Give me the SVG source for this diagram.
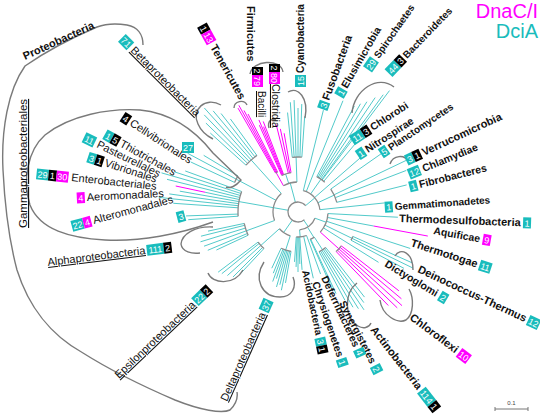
<svg xmlns="http://www.w3.org/2000/svg" width="540" height="415" viewBox="0 0 540 415">
<style>
.c{fill:none;stroke:#52caca;stroke-width:1}
.m{fill:none;stroke:#ff00ff;stroke-width:1}
.g{fill:none;stroke:#8a8a8a;stroke-width:1.3}
.k{fill:none;stroke:#7a7a7a;stroke-width:1.4}
text{font-family:"Liberation Sans",Arial,sans-serif}
.b{font-weight:bold;fill:#111}
.n{fill:#111}
.u{text-decoration:underline}
.w{fill:#fff;font-size:9px;text-anchor:middle}
.cy{fill:#19bcbc}
.mg{fill:#ff00ff}
.bk{fill:#000}
</style>
<rect width="540" height="415" fill="#fff"/>
<g id="tree">
<path class="c" d="M288.15,210.26L273.38,207.66M292.26,220.19L283.66,232.48M295.41,202.34L290.24,183.02M305.66,205.57L314.85,197.86M303.74,220.19L308.32,226.75M299.57,229.93L300.18,236.9M307.54,227.26L313.9,237.44M314.91,218.16L326.19,222.26M314.34,237.16L322.51,249.74M324.96,225.15L351.93,238.3M317.94,202.7L334.25,195.1M310.62,193.98L320.94,179.23M296.95,182.02L296.08,157.03M288.73,183.47L285.64,173.96M273.38,207.66L238.91,201.58M275.93,200.26L236.2,179.13M281.27,193.42L251.16,159.98M274.51,220.55L246.32,230.81M279.42,228.73L260.84,245.46M290.27,235.78L285.64,250.04
M306.55,235.49L320.57,274.02M303.63,236.36L313.3,278.26M299.75,236.94L302.05,269.86M298.87,236.99L299.82,263.97M298,237L298,272M297.13,236.99L296.08,266.97M296.25,236.94L294.51,261.88
M310.68,239.19L336.03,293.57M310.2,239.41L332.98,290.56
M325.71,247.46L364.5,297.1M324.45,248.41L363.83,302.61M323.16,249.31L363.99,309.82M321.85,250.16L358.41,308.67M320.5,250.97L353,307.26M319.13,251.73L344.95,300.29
M327.96,213.57L397.86,217.23M327.5,217.47L373.7,226.03M326.53,221.27L410.23,248.46M323.44,227.9L378.56,262.34
M352.81,236.4L412.19,262.84M351.93,238.3L413.05,268.12M350.97,240.17L403.95,268.34
M319.88,209.7L384.52,202.91M314.6,197.57L361.39,156.89M306.24,191.6L342.95,100.74M303.32,190.65L323.4,110.12
M336.81,202.32L406.67,184.91M335.34,197.66L406.3,170.43M334.1,194.78L406.31,160.34M330.77,189.06L381.56,153.49
M323.71,181.36L357.14,141.53M316.78,176.68L354.34,106.05M318,177.36L360.5,103.75M319.2,178.08L366.89,101.76M320.37,178.84L375.17,97.6M321.51,179.64L383.23,94.69M322.07,180.06L389.47,90.61
M292.25,157.3L287.55,112.55M294.16,157.13L290.32,102.26M296.08,157.03L294.09,100.07M298,157L298,108M299.92,157.03L301.77,104.06M301.84,157.13L304.7,116.23
M238.14,216.19L188.26,219.68M238.04,214.09L186.07,215.91M238.14,207.81L173.3,203.27M238.33,205.73L158.77,197.37M238.58,203.65L169.26,193.9M238.91,201.58L179.82,191.17M239.31,199.53L205.08,192.25M239.78,197.49L167.01,179.34M240.32,195.46L161.5,172.86M240.93,193.46L174.36,171.83M241.62,191.48L185.24,170.96
M234.56,182.42L191.06,162.13M236.2,179.13L187.64,153.31M238,175.95L203.71,155.35
M245.98,165.16L210.31,133.05M247.65,163.37L205.93,123.08M249.37,161.65L204.22,114.89M251.16,159.98L204.33,107.97M253,158.38L213.15,110.89M254.9,156.84L221.04,113.5M256.85,155.37L230.4,118.96
M248.15,235.24L216.43,250.03M247.37,233.49L207.79,250.29M246.32,230.81L204.03,246.2M245.4,228.08L200.46,241.82M244.63,225.3L200.97,236.19M244.2,223.43L208.01,231.13
M263.9,248.57L240.03,274.17M262.64,247.36L232.95,277.05M260.84,245.46L227.41,275.56M259.14,243.47L221.84,273.67M258.07,242.09L218.14,272.18
M291.06,251.39L285.5,282.91M289.68,251.12L281.37,290.25M288.32,250.81L279.86,284.77M286.98,250.45L276.5,286.98M285.64,250.04L276.37,278.58M284.32,249.59L272.69,281.54M283.02,249.09L273.28,273.2M281.1,248.25L271.8,268.19"/>
<path class="m" d="M320.29,232.07L338.87,248.8M341.34,245.86L398.86,290.81M340.13,247.35L401.41,298.78M338.87,248.8L402.03,305.67M337.56,250.21L397.26,307.87M336.21,251.56L388.31,305.51
M373.7,226.03L427.8,236.05
M281.73,175.46L259.36,125.22M282.37,175.18L258.93,119.95M283.02,174.91L263.54,126.7M283.66,174.66L263.24,121.44M288.32,173.19L276.23,124.67M289.68,172.88L280.33,128.86M291.06,172.61L284.11,133.22
M283.46,185.76L276.18,172.64M275.5,173.03L238,108.08M276.18,172.64L238.85,105.3M276.87,172.27L244.01,110.47M277.57,171.9L248.06,113.99
M205.08,192.25L175.74,186.01"/>
<path class="g" d="M304.43,219.66A10,10 0 1 1 305.66,205.57M314.91,218.16A18,18 0 0 1 299.57,229.93M306.55,235.49A25,25 0 0 1 296.25,236.94M314.34,237.16A30,30 0 0 1 310.2,239.41M325.71,247.46A45,45 0 0 1 319.13,251.73M327.96,213.57A30,30 0 0 1 320.29,232.07M352.81,236.4A60,60 0 0 1 350.97,240.17M341.34,245.86A55,55 0 0 1 336.21,251.56M303.32,190.65A22,22 0 0 1 319.88,209.7M330.77,189.06A40,40 0 0 1 336.81,202.32M316.78,176.68A40,40 0 0 1 324.76,182.28M283.46,185.76A30,30 0 0 1 296.95,182.02M292.25,157.3A55,55 0 0 1 301.84,157.13M281.73,175.46A40,40 0 0 1 291.06,172.61M275.5,173.03A45,45 0 0 1 277.57,171.9M274.51,220.55A25,25 0 0 1 281.27,193.42M238.14,216.19A60,60 0 0 1 241.62,191.48M234.56,182.42A70,70 0 0 1 238,175.95M245.98,165.16A70,70 0 0 1 256.85,155.37M248.15,235.24A55,55 0 0 1 244.2,223.43M290.27,235.78A25,25 0 0 1 279.42,228.73M263.9,248.57A50,50 0 0 1 258.07,242.09M291.06,251.39A40,40 0 0 1 281.1,248.25"/>
</g>
<g id="brackets">
<path class="k" d="M143,45C143,35 138,27 127,25C115,23 105,24 97,27Q55,45 25,66C8,90 1,130 3,170C5,210 9,240 17,270C28,305 50,335 83,353C110,370 140,385 175,400C200,410 222,414 230,410C236,404 238,398 237,392"/>
<path class="k" d="M213,222C180,234 140,242 105,240C70,238 40,230 30,205C22,180 28,150 45,135C70,115 110,108 140,110C170,113 195,130 213,153L241,180C236,186 230,189 226,187"/>
<path class="k" d="M221,105C205,96 191,110 198,124C201,131 207,136 213,139"/>
<path class="k" d="M234,108C234,101 244,99 247,105"/>
<path class="k" d="M250,74C252,60 281,58 283,72"/>
<path class="k" d="M269,128C267,121 272,118 276,120"/>
<path class="k" d="M288,92C298,86 309,98 305,118"/>
<path class="k" d="M352,113C354,90 378,74 394,87"/>
<path class="k" d="M390,164C393,155 405,154 408,162"/>
<path class="k" d="M395,256C400,247 413,252 413,270"/>
<path class="k" d="M380,300C382,316 398,324 406,320C414,314 414,298 409,289"/>
<path class="k" d="M357,283C344,293 344,318 358,326C363,329 369,328 371,323"/>
<path class="k" d="M264,262C253,279 262,297 280,297C292,297 297,287 293,277"/>
<path class="k" d="M208,273C212,284 234,286 243,270"/>
<path class="k" d="M213,227C195,226 182,234 181,244C182,252 192,254 200,253"/>
</g>
<g id="legend">
<text x="538" y="18" font-size="20" fill="#ff00ff" text-anchor="end">DnaC/I</text>
<text x="538" y="38" font-size="20" fill="#1abcbc" text-anchor="end">DciA</text>
</g>
<g id="proteobacteria" transform="translate(25,60) rotate(-24.5)"><text class="b" font-size="11">Proteobacteria</text></g>
<g id="betaproteobacteria" transform="translate(130,51) rotate(45)"><rect class="cy" x="-15" y="-9" width="12" height="11"/><text class="w" x="-9" y="0">71</text><text class="n u" font-size="11">Betaproteobacteria</text></g>
<g id="tenericutes" transform="translate(210,47) rotate(61)"><rect class="bk" x="-23" y="-9" width="8" height="11"/><text class="w" x="-19" y="0">1</text><rect class="mg" x="-15" y="-9" width="12" height="11"/><text class="w" x="-9" y="0">13</text><text class="b" font-size="11">Tenericutes</text></g>
<g id="firmicutes" transform="translate(247,6) rotate(90)"><text class="b" font-size="11">Firmicutes</text></g>
<g id="firmicutes-counts">
<rect class="bk" x="252" y="67" width="11" height="8"/><text class="w" transform="translate(257.5,71) rotate(90)" y="3.2">2</text>
<rect class="mg" x="252" y="75" width="11" height="12"/><text class="w" transform="translate(257.5,81) rotate(90)" y="3.2">79</text>
<rect class="bk" x="269" y="64" width="11" height="8"/><text class="w" transform="translate(274.5,68) rotate(90)" y="3.2">2</text>
<rect class="mg" x="269" y="72" width="11" height="12"/><text class="w" transform="translate(274.5,78) rotate(90)" y="3.2">80</text>
</g>
<g id="bacilli" transform="translate(258,91) rotate(90)"><text class="n u" font-size="10">Bacilli</text></g>
<g id="clostridia" transform="translate(272,84) rotate(90)"><text class="n u" font-size="10.5">Clostridia</text></g>
<g id="cyanobacteria" transform="translate(304,73) rotate(-90)"><rect class="cy" x="-14" y="-9" width="12" height="11"/><text class="w" x="-8" y="0">15</text><text class="b" font-size="10">Cyanobacteria</text></g>
<g id="fusobacteria" transform="translate(329,101) rotate(-70)"><rect class="cy" x="-10" y="-9" width="8" height="11"/><text class="w" x="-6" y="0">3</text><text class="b" font-size="11">Fusobacteria</text></g>
<g id="elusimicrobia" transform="translate(347,89) rotate(-60)"><rect class="cy" x="-10" y="-9" width="8" height="11"/><text class="w" x="-6" y="0">1</text><text class="b" font-size="10.5">Elusimicrobia</text></g>
<g id="spirochaetes" transform="translate(379,59) rotate(-55)"><rect class="cy" x="-15" y="-9" width="12" height="11"/><text class="w" x="-9" y="0">29</text><text class="b" font-size="10">Spirochaetes</text></g>
<g id="bacteroidetes" transform="translate(407,59) rotate(-46)"><rect class="cy" x="-23" y="-9" width="13" height="11"/><text class="w" x="-16.5" y="0">44</text><rect class="bk" x="-10" y="-9" width="8" height="11"/><text class="w" x="-6" y="0">3</text><text class="b" font-size="10">Bacteroidetes</text></g>
<g id="chlorobi" transform="translate(373,131) rotate(-33)"><rect class="cy" x="-23" y="-9" width="13" height="11"/><text class="w" x="-16.5" y="0">11</text><rect class="bk" x="-10" y="-9" width="8" height="11"/><text class="w" x="-6" y="0">3</text><text class="b" font-size="10.5">Chlorobi</text></g>
<g id="nitrospirae" transform="translate(368,153) rotate(-33)"><rect class="cy" x="-10" y="-9" width="8" height="11"/><text class="w" x="-6" y="0">1</text><text class="b" font-size="10.5">Nitrospirae</text></g>
<g id="planctomycetes" transform="translate(391,151) rotate(-34)"><rect class="cy" x="-10" y="-9" width="8" height="11"/><text class="w" x="-6" y="0">5</text><text class="b" font-size="10">Planctomycetes</text></g>
<g id="verrucomicrobia" transform="translate(424,156) rotate(-25)"><rect class="cy" x="-18" y="-9" width="8" height="11"/><text class="w" x="-14" y="0">3</text><rect class="bk" x="-10" y="-9" width="8" height="11"/><text class="w" x="-6" y="0">1</text><text class="b" font-size="11">Verrucomicrobia</text></g>
<g id="chlamydiae" transform="translate(424,172) rotate(-22)"><rect class="cy" x="-15" y="-9" width="12" height="11"/><text class="w" x="-9" y="0">12</text><text class="b" font-size="10.5">Chlamydiae</text></g>
<g id="fibrobacteres" transform="translate(420,188) rotate(-14)"><rect class="cy" x="-10" y="-9" width="8" height="11"/><text class="w" x="-6" y="0">1</text><text class="b" font-size="10.5">Fibrobacteres</text></g>
<g id="gemmatimonadetes" transform="translate(395,210) rotate(-4)"><rect class="cy" x="-10" y="-9" width="8" height="11"/><text class="w" x="-6" y="0">1</text><text class="b" font-size="10">Gemmatimonadetes</text></g>
<g id="thermodesulfobacteria" transform="translate(399,222) rotate(2)"><text class="b" font-size="11">Thermodesulfobacteria</text><rect class="cy" x="124" y="-9" width="8" height="11"/><text class="w" x="128" y="0">1</text></g>
<g id="aquificae" transform="translate(433,234) rotate(10)"><text class="b" font-size="10.5">Aquificae</text><rect class="mg" x="50" y="-9" width="8" height="11"/><text class="w" x="54" y="0">9</text></g>
<g id="thermotogae" transform="translate(410,246) rotate(18)"><text class="b" font-size="11">Thermotogae</text><rect class="cy" x="72" y="-9" width="12" height="11"/><text class="w" x="78" y="0">11</text></g>
<g id="deinococcus-thermus" transform="translate(417,272) rotate(25)"><text class="b" font-size="11">Deinococcus-Thermus</text><rect class="cy" x="121" y="-9" width="12" height="11"/><text class="w" x="127" y="0">12</text></g>
<g id="dictyoglomi" transform="translate(384,266) rotate(31)"><text class="b" font-size="10.5">Dictyoglomi</text><rect class="cy" x="63" y="-9" width="8" height="11"/><text class="w" x="67" y="0">2</text></g>
<g id="chloroflexi" transform="translate(409,319) rotate(37)"><text class="b" font-size="11">Chloroflexi</text><rect class="mg" x="60" y="-9" width="12" height="11"/><text class="w" x="66" y="0">10</text></g>
<g id="actinobacteria" transform="translate(370,330) rotate(52)"><text class="b" font-size="11">Actinobacteria</text><rect class="cy" x="79" y="-9" width="17" height="11"/><text class="w" x="87.5" y="0">114</text><rect class="bk" x="96" y="-9" width="8" height="11"/><text class="w" x="100" y="0">1</text></g>
<g id="synergistetes" transform="translate(339,303) rotate(63)"><text class="b" font-size="10.5">Synergistetes</text><rect class="cy" x="72" y="-9" width="8" height="11"/><text class="w" x="76" y="0">2</text></g>
<g id="deferribacteres" transform="translate(321,278) rotate(65)"><text class="b" font-size="10.5">Deferribacteres</text><rect class="cy" x="80" y="-9" width="8" height="11"/><text class="w" x="84" y="0">4</text></g>
<g id="chrysiogenetes" transform="translate(312,283) rotate(71.5)"><text class="b" font-size="10.5">Chrysiogenetes</text><rect class="cy" x="81" y="-9" width="8" height="11"/><text class="w" x="85" y="0">1</text></g>
<g id="acidobacteria" transform="translate(302,271) rotate(78)"><text class="b" font-size="10">Acidobacteria</text><rect class="cy" x="69" y="-9" width="8" height="11"/><text class="w" x="73" y="0">3</text><rect class="bk" x="77" y="-9" width="8" height="11"/><text class="w" x="81" y="0">1</text></g>
<g id="deltaproteobacteria" transform="translate(227,402) rotate(-66)"><text class="n u" font-size="11">Deltaproteobacteria</text><rect class="cy" x="98" y="-9" width="12" height="11"/><text class="w" x="104" y="0">37</text></g>
<g id="epsilonproteobacteria" transform="translate(119,379) rotate(-43.5)"><text class="n u" font-size="11">Epsilonproteobacteria</text><rect class="cy" x="108" y="-9" width="12" height="11"/><text class="w" x="114" y="0">22</text><rect class="bk" x="120" y="-9" width="8" height="11"/><text class="w" x="124" y="0">2</text></g>
<g id="alphaproteobacteria" transform="translate(48,266) rotate(-7)"><text class="n u" font-size="11">Alphaproteobacteria</text><rect class="cy" x="100" y="-9" width="17" height="11"/><text class="w" x="108.5" y="0">111</text><rect class="bk" x="117" y="-9" width="8" height="11"/><text class="w" x="121" y="0">2</text></g>
<g id="gammaproteobacteriales" transform="translate(27,228) rotate(-90)"><text class="n u" font-size="11.5">Gammaproteobacteriales</text></g>
<g id="cellvibrionales" transform="translate(129,125) rotate(33)"><rect class="bk" x="-10" y="-9" width="8" height="11"/><text class="w" x="-6" y="0">4</text><text class="n" font-size="11">Cellvibrionales</text></g>
<g id="thiotrichales" transform="translate(119,146) rotate(29)"><rect class="cy" x="-18" y="-9" width="8" height="11"/><text class="w" x="-14" y="0">1</text><rect class="bk" x="-10" y="-9" width="8" height="11"/><text class="w" x="-6" y="0">5</text><text class="n" font-size="11">Thiotrichales</text></g>
<g id="pasteurellales" transform="translate(96,147) rotate(26)"><rect class="cy" x="-15" y="-9" width="12" height="11"/><text class="w" x="-9" y="0">11</text><text class="n" font-size="11">Pasteurellales</text></g>
<g id="vibrionales" transform="translate(104,166) rotate(18)"><rect class="cy" x="-18" y="-9" width="8" height="11"/><text class="w" x="-14" y="0">3</text><rect class="bk" x="-10" y="-9" width="8" height="11"/><text class="w" x="-6" y="0">1</text><text class="n" font-size="11">Vibrionales</text></g>
<g id="enterobacteriales" transform="translate(71,181) rotate(6)"><rect class="cy" x="-35" y="-9" width="12" height="11"/><text class="w" x="-29" y="0">29</text><rect class="bk" x="-23" y="-9" width="8" height="11"/><text class="w" x="-19" y="0">1</text><rect class="mg" x="-15" y="-9" width="12" height="11"/><text class="w" x="-9" y="0">30</text><text class="n" font-size="11">Enterobacteriales</text></g>
<g id="aeromonadales" transform="translate(87,201) rotate(-3)"><rect class="mg" x="-10" y="-9" width="8" height="11"/><text class="w" x="-6" y="0">4</text><text class="n" font-size="11">Aeromonadales</text></g>
<g id="alteromonadales" transform="translate(94,224) rotate(-15)"><rect class="cy" x="-22" y="-9" width="12" height="11"/><text class="w" x="-16" y="0">22</text><rect class="mg" x="-10" y="-9" width="8" height="11"/><text class="w" x="-6" y="0">4</text><text class="n" font-size="11">Alteromonadales</text></g>
<g id="count-27"><rect class="cy" x="182" y="142" width="12" height="11"/><text class="w" x="188" y="151">27</text></g>
<g id="count-3" transform="translate(178,221) rotate(-15)"><rect class="cy" x="0" y="-9" width="8" height="11"/><text class="w" x="4" y="0">3</text></g>
<g id="scale">
<path d="M495,409H528M495,407V411M528,407V411" stroke="#777" stroke-width="1" fill="none"/>
<text x="511.5" y="405" font-size="6" fill="#444" text-anchor="middle">0.1</text>
</g>
</svg>
